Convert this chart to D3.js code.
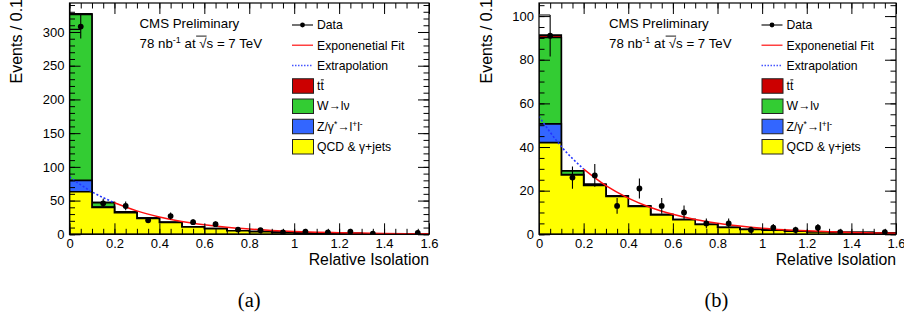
<!DOCTYPE html>
<html>
<head>
<meta charset="utf-8">
<script src="https://cdn.jsdelivr.net/npm/d3@7"></script>
<style>
  body { margin: 0; background: #fff; }
  svg { display: block; }
</style>
</head>
<body>
<div id="drawing"></div>
<script>
// relative isolation bins, width 0.1
const binLo = [0, 0.1, 0.2, 0.3, 0.4, 0.5, 0.6, 0.7, 0.8, 0.9, 1.0, 1.1, 1.2, 1.3, 1.4, 1.5];
const binWidth = 0.1;
const fitX = [0, 0.1, 0.2, 0.3, 0.4, 0.5, 0.6, 0.7, 0.8, 0.9, 1.0, 1.1, 1.2, 1.3, 1.4, 1.5, 1.6];

// panel (a)
const aQcd = [63, 40, 32, 23.5, 17.5, 11, 8.2, 5.2, 3.8, 2.8, 2, 1.5, 1.1, 0.8, 0.6, 0.4];
const aZ = [17, 0.4, 0.2, 0.1, 0.1, 0.1, 0, 0, 0, 0, 0, 0, 0, 0, 0, 0];
const aW = [246, 6.6, 1, 0.5, 0.3, 0.2, 0.2, 0.1, 0.1, 0, 0, 0, 0, 0, 0, 0];
const aTt = [1, 0.2, 0.1, 0.1, 0, 0, 0, 0, 0, 0, 0, 0, 0, 0, 0, 0];
const aData = [308, 46, 42, 21, 27, 18, 15, 7, 6, 3, 4, 3, 4, 1, 0, 2];
const aFit = [85, 63, 46.8, 34.7, 25.8, 19.1, 14.2, 10.5, 7.8, 5.8, 4.3, 3.2, 2.4, 1.8, 1.3, 0.97, 0.72];
const aStub = 304;

// panel (b)
const bQcd = [42, 27.2, 22.4, 17.4, 12.8, 8.9, 6.7, 4.5, 3.1, 2.2, 1.9, 1.4, 1.1, 0.85, 0.75, 0.55];
const bZ = [8.6, 0.2, 0.2, 0.1, 0.1, 0, 0, 0, 0, 0, 0, 0, 0, 0, 0, 0];
const bW = [39.6, 1.6, 0.3, 0.2, 0.1, 0.1, 0.1, 0, 0, 0, 0, 0, 0, 0, 0, 0];
const bTt = [1.1, 0.1, 0, 0, 0, 0, 0, 0, 0, 0, 0, 0, 0, 0, 0, 0];
const bData = [91, 26, 27, 13, 21, 13, 10, 5, 5, 2, 3, 2, 3, 1, 0, 1];
const bFit = [54, 40.2, 29.9, 22.3, 16.6, 12.3, 9.2, 6.8, 5.1, 3.8, 2.8, 2.1, 1.6, 1.2, 0.87, 0.65, 0.48];
const bStub = 100.5;

const fitStart = 0.2; // extrapolation below, fit above
const xTicks = [0, 0.2, 0.4, 0.6, 0.8, 1, 1.2, 1.4, 1.6];

const colors = { tt: "#cc0000", w: "#33cc33", z: "#3366ff", qcd: "#ffff00" };
const FONT = "'Liberation Sans', Arial, Helvetica, sans-serif";

const svg = d3
  .select("#drawing")
  .append("svg")
  .attr("width", 904)
  .attr("height", 327)
  .style("font-family", FONT);

// draw a line over characters [i0..i1] of a text element
function overline(textSel, i0, i1, lift) {
  const node = textSel.node();
  const a = node.getExtentOfChar(i0);
  const b = node.getExtentOfChar(i1);
  textSel.select(function () { return this.parentNode; })
    .append("line")
    .attr("x1", a.x + a.width * 0.15)
    .attr("x2", b.x + b.width)
    .attr("y1", a.y + lift)
    .attr("y2", a.y + lift)
    .attr("stroke", "#000")
    .attr("stroke-width", 0.9);
}

function drawPanel(p) {
  const g = svg.append("g");
  const x = d3.scaleLinear().domain([0, 1.6]).range([p.x0, p.x1]);
  const y = d3.scaleLinear().domain([0, p.yMax]).range([234.3, 3]);

  const clipId = "clip" + p.id;
  svg.append("clipPath").attr("id", clipId)
    .append("rect").attr("x", p.x0).attr("y", 3)
    .attr("width", p.x1 - p.x0).attr("height", 234.3 - 3);
  const plot = g.append("g").attr("clip-path", `url(#${clipId})`);

  // stacked histograms, drawn from the total down
  const cum = (arrs) => binLo.map((_, i) => d3.sum(arrs, (a) => a[i]));
  const layers = [
    { vals: cum([p.qcd, p.z, p.w, p.tt]), fill: colors.tt },
    { vals: cum([p.qcd, p.z, p.w]), fill: colors.w },
    { vals: cum([p.qcd, p.z]), fill: colors.z },
    { vals: cum([p.qcd]), fill: colors.qcd },
  ];
  const stepPath = (vals) => {
    let d = `M${x(0)},${y(0)}`;
    vals.forEach((v, i) => {
      d += `V${y(v)}H${x(binLo[i] + binWidth)}`;
    });
    return d + `V${y(0)}Z`;
  };
  plot.selectAll("path.layer")
    .data(layers)
    .enter()
    .append("path")
    .attr("class", "layer")
    .attr("d", (d) => stepPath(d.vals))
    .attr("fill", (d) => d.fill)
    .attr("stroke", "#000")
    .attr("stroke-width", 1.6);

  // short outline piece in the first bin
  plot.append("line")
    .attr("x1", x(0)).attr("x2", x(binWidth / 2))
    .attr("y1", y(p.stub)).attr("y2", y(p.stub))
    .attr("stroke", "#000").attr("stroke-width", 1.2);

  // fit and extrapolation
  const pts = fitX.map((v, i) => [v, p.fit[i]]);
  const line = d3.line().x((d) => x(d[0])).y((d) => y(d[1])).curve(d3.curveMonotoneX);
  plot.append("path")
    .attr("d", line(pts.filter((d) => d[0] <= fitStart)))
    .attr("fill", "none").attr("stroke", "#2233ff")
    .attr("stroke-width", 1.6).attr("stroke-dasharray", "2,2");
  plot.append("path")
    .attr("d", line(pts.filter((d) => d[0] >= fitStart)))
    .attr("fill", "none").attr("stroke", "#ff1010")
    .attr("stroke-width", 1.5);

  // data with poisson errors
  const data = p.data
    .map((n, i) => ({ x: binLo[i] + binWidth / 2, n }))
    .filter((d) => d.n > 0);
  plot.selectAll("line.err")
    .data(data)
    .enter()
    .append("line")
    .attr("class", "err")
    .attr("x1", (d) => x(d.x)).attr("x2", (d) => x(d.x))
    .attr("y1", (d) => y(d.n - Math.sqrt(d.n)))
    .attr("y2", (d) => y(d.n + Math.sqrt(d.n)))
    .attr("stroke", "#000").attr("stroke-width", 1.1);
  plot.selectAll("circle.pt")
    .data(data)
    .enter()
    .append("circle")
    .attr("class", "pt")
    .attr("cx", (d) => x(d.x)).attr("cy", (d) => y(d.n))
    .attr("r", 2.9).attr("fill", "#000");

  // axes: ticks point inward on all four sides
  const yMajor = d3.range(0, p.yMax + 0.001, p.yMajor);
  const yMinor = d3.range(0, p.yMax + 0.001, p.yMinor);
  const xMinor = d3.range(0, 1.6001, 0.05);

  const addAxis = (axis, tx, ty) => {
    const a = g.append("g").attr("transform", `translate(${tx},${ty})`).call(axis);
    a.select(".domain").remove();
    a.selectAll("line").attr("stroke", "#000");
    a.selectAll("text").attr("fill", "#000").style("font-family", FONT).style("font-size", "13px");
    return a;
  };

  addAxis(d3.axisLeft(y).tickValues(yMajor).tickSize(-11).tickPadding(5), p.x0, 0);
  addAxis(d3.axisLeft(y).tickValues(yMinor).tickSize(-5.5).tickFormat(""), p.x0, 0);
  addAxis(d3.axisRight(y).tickValues(yMajor).tickSize(-11).tickFormat(""), p.x1, 0);
  addAxis(d3.axisRight(y).tickValues(yMinor).tickSize(-5.5).tickFormat(""), p.x1, 0);
  addAxis(d3.axisBottom(x).tickValues(xTicks).tickSize(-11).tickPadding(4).tickFormat(d3.format("~g")), 0, 234.3);
  addAxis(d3.axisBottom(x).tickValues(xMinor).tickSize(-5.5).tickFormat(""), 0, 234.3);
  addAxis(d3.axisTop(x).tickValues(xTicks).tickSize(-11).tickFormat(""), 0, 3);
  addAxis(d3.axisTop(x).tickValues(xMinor).tickSize(-5.5).tickFormat(""), 0, 3);

  // frame
  g.append("rect")
    .attr("x", p.x0).attr("y", 3)
    .attr("width", p.x1 - p.x0).attr("height", 234.3 - 3)
    .attr("fill", "none").attr("stroke", "#000").attr("stroke-width", 1.2);

  // axis titles
  g.append("text")
    .attr("transform", `translate(${p.x0 - 47.5},-1) rotate(-90)`)
    .attr("text-anchor", "end")
    .style("font-size", "16px")
    .text("Events / 0.1");
  g.append("text")
    .attr("x", p.x1).attr("y", 264.5)
    .attr("text-anchor", "end")
    .style("font-size", "15.8px")
    .text("Relative Isolation");

  // CMS label
  const lx = p.x0 + 70;
  g.append("text").attr("x", lx).attr("y", 27.5)
    .style("font-size", "13.3px").text("CMS Preliminary");
  const lumi = g.append("text").attr("x", lx).attr("y", 47.5).style("font-size", "13.3px");
  lumi.append("tspan").text("78 nb");
  lumi.append("tspan").attr("dy", -5).style("font-size", "9px").text("-1");
  lumi.append("tspan").attr("dy", 5).text(" at \u221As = 7 TeV");
  overline(lumi, 10, 11, 0.6);

  // legend
  const sx = p.x0 + 222.5;
  const rowY = (i) => 25 + i * 20.25;
  const leg = g.append("g").style("font-size", "12.2px");
  // Data
  leg.append("line").attr("x1", sx).attr("x2", sx + 21).attr("y1", rowY(0)).attr("y2", rowY(0))
    .attr("stroke", "#000").attr("stroke-width", 1.1);
  leg.append("circle").attr("cx", sx + 10.5).attr("cy", rowY(0)).attr("r", 2.4).attr("fill", "#000");
  // fit
  leg.append("line").attr("x1", sx).attr("x2", sx + 21).attr("y1", rowY(1)).attr("y2", rowY(1))
    .attr("stroke", "#ff4040").attr("stroke-width", 1.5);
  // extrapolation
  leg.append("line").attr("x1", sx).attr("x2", sx + 21).attr("y1", rowY(2)).attr("y2", rowY(2))
    .attr("stroke", "#4455ff").attr("stroke-width", 1.3).attr("stroke-dasharray", "1.5,1.5");
  // boxes
  [colors.tt, colors.w, colors.z, colors.qcd].forEach((c, k) => {
    leg.append("rect")
      .attr("x", sx + 0.5).attr("y", rowY(3 + k) - 7)
      .attr("width", 21).attr("height", 14.5)
      .attr("fill", c).attr("stroke", "#222").attr("stroke-width", 1);
  });
  const tx = sx + 25;
  const lab = (i) => leg.append("text").attr("x", tx).attr("y", rowY(i) + 4.3);
  lab(0).text("Data");
  lab(1).text("Exponenetial Fit");
  lab(2).text("Extrapolation");
  const ttText = lab(3).text("tt");
  overline(ttText, 1, 1, 0.8);
  lab(4).text("W\u2192l\u03BD");
  const zt = lab(5);
  zt.append("tspan").text("Z/\u03B3");
  zt.append("tspan").attr("dy", -4).style("font-size", "8.5px").text("*");
  zt.append("tspan").attr("dy", 4).text("\u2192l");
  zt.append("tspan").attr("dy", -4).style("font-size", "8.5px").text("+");
  zt.append("tspan").attr("dy", 4).text("l");
  zt.append("tspan").attr("dy", -4).style("font-size", "8.5px").text("-");
  lab(6).text("QCD & \u03B3+jets");

  // caption
  svg.append("text")
    .attr("x", (p.x0 + p.x1) / 2 + p.capShift).attr("y", 306.5)
    .attr("text-anchor", "middle")
    .style("font-family", "'Liberation Serif', 'Times New Roman', serif")
    .style("font-size", "20.5px")
    .text(p.caption);
}

drawPanel({
  id: "a", x0: 69.5, x1: 429, yMax: 343, yMajor: 50, yMinor: 10,
  qcd: aQcd, z: aZ, w: aW, tt: aTt, data: aData, fit: aFit, stub: aStub,
  caption: "(a)", capShift: 0,
});
drawPanel({
  id: "b", x0: 539, x1: 896, yMax: 106, yMajor: 20, yMinor: 5,
  qcd: bQcd, z: bZ, w: bW, tt: bTt, data: bData, fit: bFit, stub: bStub,
  caption: "(b)", capShift: -1,
});
</script>
</body>
</html>
